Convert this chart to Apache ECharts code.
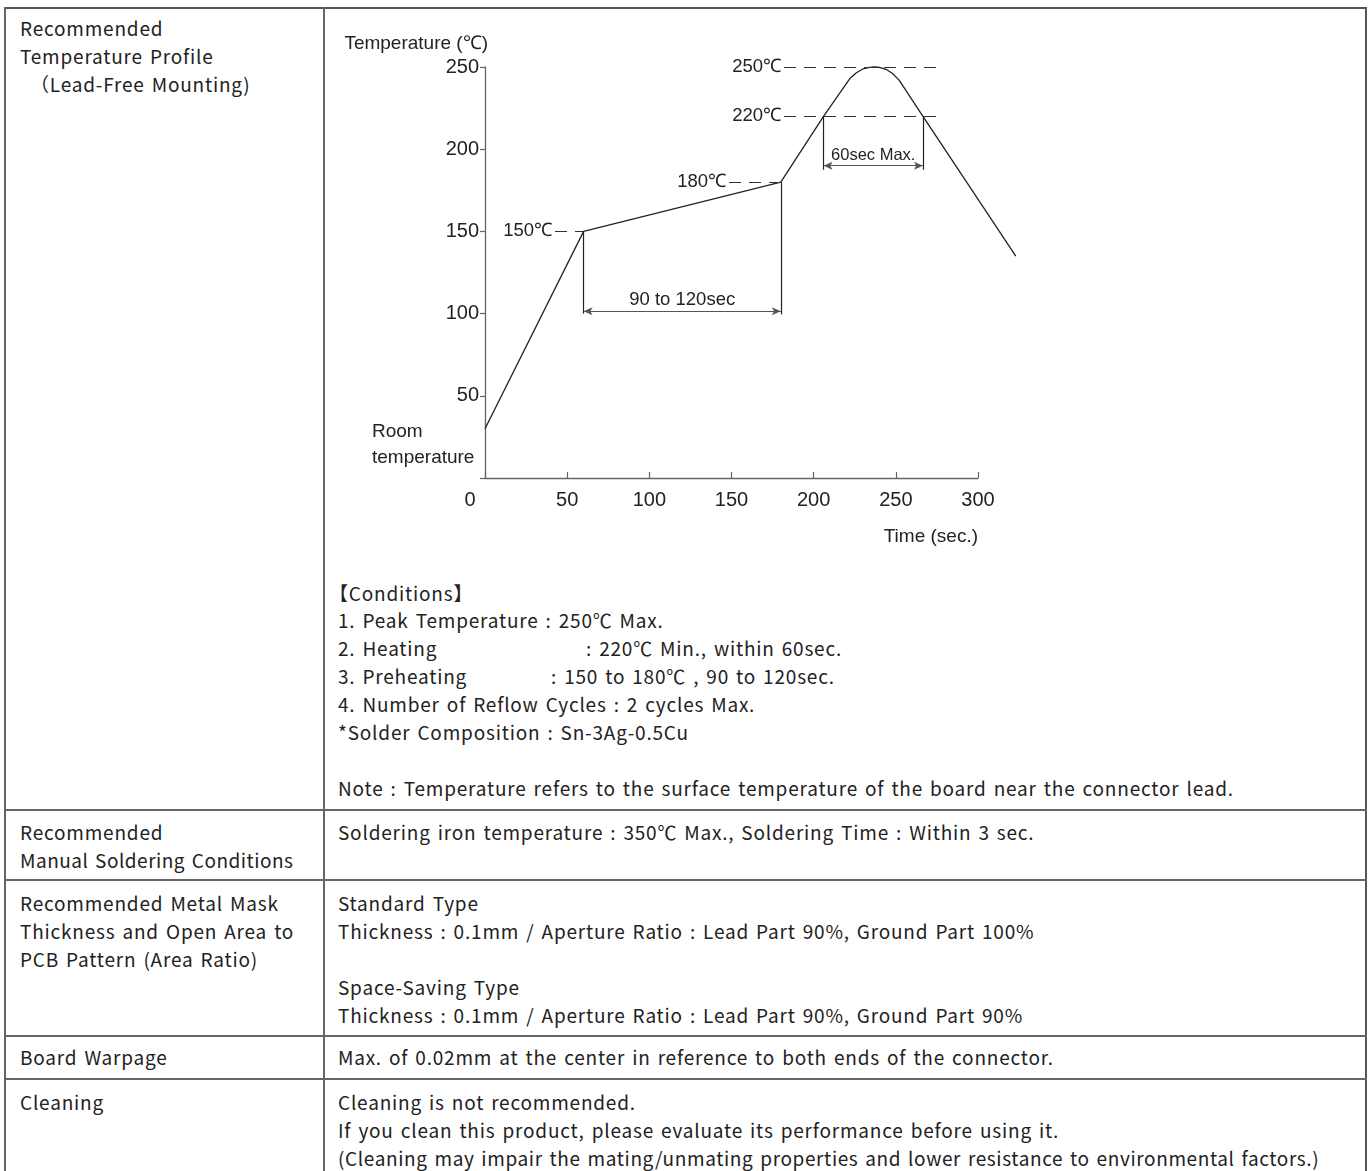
<!DOCTYPE html>
<html>
<head>
<meta charset="utf-8">
<script src="https://cdn.jsdelivr.net/npm/echarts@6/dist/echarts.min.js"></script>
<style>
  html, body { margin: 0; padding: 0; background: #fff; }
  #page { position: relative; width: 1369px; height: 1171px; overflow: hidden; background: #fff;
          font-family: "Noto Sans CJK JP", "Noto Sans", sans-serif; color: #222; font-size: 19px; }
  #texts { letter-spacing: 0.8px; word-spacing: 2px; }
  .t { position: absolute; white-space: pre; line-height: 28px; height: 28px; }
  .hl { position: absolute; background: #666; height: 1.5px; }
  .vl { position: absolute; background: #666; width: 1.5px; }
  #chart { position: absolute; left: 0; top: 0; width: 1369px; height: 1171px;
           letter-spacing: normal; word-spacing: normal; }
</style>
</head>
<body>
<div id="page">
  <div class="hl" style="left:4px; top:7px; width:1363px; height:2px; background:#555"></div>
  <div class="vl" style="left:4px; top:7px; height:1200px"></div>
  <div class="vl" style="left:1365px; top:7px; height:1200px; width:2px; background:#555"></div>
  <div class="vl" style="left:323px; top:7px; height:1200px"></div>
  <div class="hl" style="left:4px; top:809px; width:1363px"></div>
  <div class="hl" style="left:4px; top:879px; width:1363px"></div>
  <div class="hl" style="left:4px; top:1035px; width:1363px"></div>
  <div class="hl" style="left:4px; top:1078px; width:1363px"></div>
  <div id="texts"></div>
  <div id="chart"></div>
</div>
<script>
// ---- data ----
const profileTime = [0, 60, 180, 206, 222, 226, 230, 234, 237, 240, 244, 248, 252, 266.5, 323];
const profileTemp = [30, 150, 180, 220, 243, 246.5, 248.8, 249.8, 250, 249.8, 248.6, 246, 242, 220, 135];
const thresholdLabels = ['250℃', '220℃', '180℃', '150℃'];
const thresholdTemps = [250, 220, 180, 150];
const thresholdFrom = [182, 182, 148.5, 42.6];
const thresholdTo = [275, 275, 180, 60];
const preheatSpan = [60, 180];      // 90 to 120sec
const reflowSpan = [206, 266.5];    // 60sec Max.
const xTicks = [0, 50, 100, 150, 200, 250, 300];
const yTicks = [0, 50, 100, 150, 200, 250];
const timeDrawMax = 325;            // profile runs past the last labelled tick

// ---- table text ----
const L = 20, R = 338;
const lines = [
  [L, 28, 'Recommended'], [L, 56, 'Temperature Profile'], [L + 10, 84, '（Lead-Free Mounting)'],
  [R - 9, 593, '【Conditions】'],
  [R, 620, '1. Peak Temperature : 250℃ Max.'],
  [R, 648, '2. Heating'], [586, 648, ': 220℃ Min., within 60sec.'],
  [R, 676, '3. Preheating'], [551, 676, ': 150 to 180℃ , 90 to 120sec.'],
  [R, 704, '4. Number of Reflow Cycles : 2 cycles Max.'],
  [R, 732, '*Solder Composition : Sn-3Ag-0.5Cu'],
  [R, 788, 'Note : Temperature refers to the surface temperature of the board near the connector lead.'],
  [L, 832, 'Recommended'], [L, 860, 'Manual Soldering Conditions', 0.5],
  [R, 832, 'Soldering iron temperature : 350℃ Max., Soldering Time : Within 3 sec.'],
  [L, 903, 'Recommended Metal Mask'], [L, 931, 'Thickness and Open Area to'], [L, 959, 'PCB Pattern (Area Ratio)'],
  [R, 903, 'Standard Type'], [R, 931, 'Thickness : 0.1mm / Aperture Ratio : Lead Part 90%, Ground Part 100%'],
  [R, 987, 'Space-Saving Type'], [R, 1015, 'Thickness : 0.1mm / Aperture Ratio : Lead Part 90%, Ground Part 90%'],
  [L, 1057, 'Board Warpage'], [R, 1057, 'Max. of 0.02mm at the center in reference to both ends of the connector.'],
  [L, 1102, 'Cleaning'], [R, 1102, 'Cleaning is not recommended.'],
  [R, 1130, 'If you clean this product, please evaluate its performance before using it.'],
  [R, 1158, '(Cleaning may impair the mating/unmating properties and lower resistance to environmental factors.)', 0.62]
];
const box = document.getElementById('texts');
lines.forEach(([x, cy, s, ls]) => {
  const d = document.createElement('div');
  d.className = 't';
  d.style.left = x + 'px';
  d.style.top = (cy - 14) + 'px';
  if (ls !== undefined) d.style.letterSpacing = ls + 'px';
  d.textContent = s;
  box.appendChild(d);
});

// ---- chart ----
const chart = echarts.init(document.getElementById('chart'), null, { renderer: 'canvas' });
const font = 'Liberation Sans';
const thresholdLines = thresholdTemps.map((t, i) => [
  { coord: [thresholdFrom[i], t],
    lineStyle: { type: [12, 8], color: '#333', width: 1.2 },
    label: { show: true, position: 'start', formatter: thresholdLabels[i], fontSize: 18.5, fontFamily: font, color: '#222', distance: 3 } },
  { coord: [thresholdTo[i], t] }
]);
const dimStyle = { type: 'solid', color: '#222', width: 1.2 };
const arrowStyle = { type: 'solid', color: '#555', width: 1.2 };
const dims = [
  [{ coord: [preheatSpan[0], profileTemp[1]], lineStyle: dimStyle, label: { show: false } }, { coord: [preheatSpan[0], 100] }],
  [{ coord: [preheatSpan[1], profileTemp[2]], lineStyle: dimStyle, label: { show: false } }, { coord: [preheatSpan[1], 99.5] }],
  [{ coord: [preheatSpan[0], 101.5], symbol: 'arrow', lineStyle: arrowStyle,
     label: { show: true, position: 'middle', formatter: '90 to 120sec', fontSize: 18.5, fontFamily: font, color: '#222', distance: 2 } },
   { coord: [preheatSpan[1], 101.5], symbol: 'arrow' }],
  [{ coord: [reflowSpan[0], 220], lineStyle: dimStyle, label: { show: false } }, { coord: [reflowSpan[0], 187.5] }],
  [{ coord: [reflowSpan[1], 220], lineStyle: dimStyle, label: { show: false } }, { coord: [reflowSpan[1], 187.5] }],
  [{ coord: [reflowSpan[0], 190], symbol: 'arrow', lineStyle: arrowStyle,
     label: { show: true, position: 'middle', formatter: '60sec Max.', fontSize: 16.5, fontFamily: font, color: '#222', distance: 2 } },
   { coord: [reflowSpan[1], 190], symbol: 'arrow' }]
];

const axisMax = xTicks[xTicks.length - 1];
const gridW = 493;
chart.setOption({
  animation: false,
  backgroundColor: 'transparent',
  grid: [
    { left: 485, top: 67, width: gridW, height: 411 },
    { left: 485, top: 67, width: gridW * timeDrawMax / axisMax, height: 411 }
  ],
  xAxis: [{
    type: 'value', gridIndex: 0, min: xTicks[0], max: axisMax, interval: 50,
    axisLine: { lineStyle: { color: '#666', width: 1.3 } },
    axisTick: { inside: true, length: 6, lineStyle: { color: '#666', width: 1.2 } },
    splitLine: { show: false },
    axisLabel: {
      margin: 12, fontSize: 20, fontFamily: font, color: '#222',
      formatter: v => v === 0 ? '{z|0}' : String(v),
      rich: { z: { fontSize: 20, fontFamily: font, color: '#222', padding: [0, 30, 0, 0] } }
    },
    name: 'Time (sec.)', nameLocation: 'end', nameGap: 0,
    nameTextStyle: { fontSize: 19, fontFamily: font, color: '#222', align: 'right', verticalAlign: 'top', padding: [49, 0, 0, 0] }
  }, {
    type: 'value', gridIndex: 1, min: xTicks[0], max: timeDrawMax, show: false
  }],
  yAxis: [{
    type: 'value', gridIndex: 0, min: yTicks[0], max: yTicks[yTicks.length - 1], interval: 50,
    axisLine: { show: true, lineStyle: { color: '#666', width: 1.3 } },
    axisTick: { show: true, length: 5, lineStyle: { color: '#666', width: 1.2 } },
    splitLine: { show: false },
    axisLabel: { margin: 6, fontSize: 20, fontFamily: font, color: '#222', formatter: v => v === 0 ? '' : String(v) },
    name: 'Temperature (℃)', nameLocation: 'end', nameGap: 14,
    nameTextStyle: { fontSize: 19, fontFamily: font, color: '#222', align: 'right', padding: [0, -3, 0, 0] }
  }, {
    type: 'value', gridIndex: 1, min: yTicks[0], max: yTicks[yTicks.length - 1], show: false
  }],
  graphic: [{
    type: 'text', left: 372, top: 419,
    style: { text: 'Room\ntemperature', font: '19px "Liberation Sans"', fill: '#222', lineHeight: 26 }
  }],
  series: [{
    type: 'line', name: 'profile', xAxisIndex: 1, yAxisIndex: 1,
    data: profileTime.map((t, i) => [t, profileTemp[i]]),
    symbol: 'none', showSymbol: false, clip: false, silent: true,
    lineStyle: { color: '#222', width: 1.3 },
    markLine: {
      silent: true, animation: false, symbol: 'none', symbolSize: [6, 9],
      data: thresholdLines.concat(dims)
    }
  }]
});
</script>
</body>
</html>
